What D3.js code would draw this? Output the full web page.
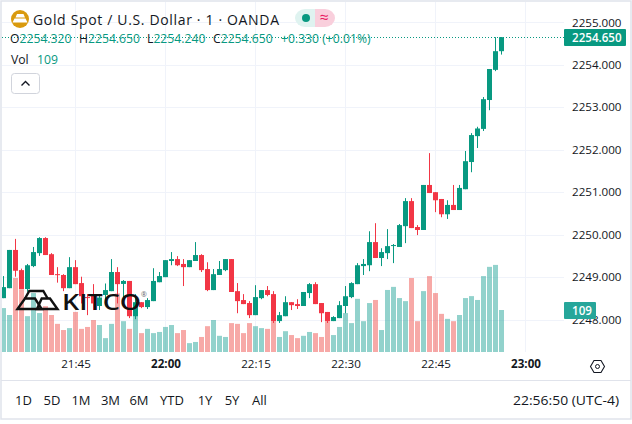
<!DOCTYPE html>
<html><head><meta charset="utf-8">
<script src="https://cdn.jsdelivr.net/npm/d3@7"></script>
<style>html,body{margin:0;padding:0;background:#fff}svg{display:block}text{font-family:"Open Sans",sans-serif}</style>
</head><body><svg id="c" width="632" height="424"></svg>
<script>
const opens=[2248.505,2248.74,2249.64,2249.165,2248.72,2249.26,2249.565,2249.92,2249.54,2249.07,2249.05,2248.74,2249.235,2248.86,2248.53,2248.58,2248.32,2248.58,2248.67,2249.12,2248.84,2248.91,2248.08,2248.41,2248.295,2248.435,2248.88,2249.00,2249.38,2249.425,2249.31,2249.235,2249.38,2249.52,2249.19,2248.695,2249.05,2249.165,2249.425,2248.67,2248.46,2248.39,2248.105,2248.505,2248.695,2248.60,2247.965,2248.08,2248.41,2248.365,2248.32,2248.625,2248.835,2248.39,2248.18,2247.965,2248.035,2248.32,2248.53,2248.835,2249.26,2249.28,2249.825,2249.45,2249.565,2249.74,2249.71,2250.20,2250.79,2250.18,2250.11,2251.17,2251.0,2250.84,2250.48,2250.70,2250.58,2251.07,2251.71,2252.32,2252.49,2253.17,2253.88,2254.32];
const highs=[2249.025,2249.64,2249.90,2249.20,2249.31,2249.71,2249.94,2249.94,2249.565,2249.235,2249.07,2249.47,2249.40,2249.01,2248.60,2248.835,2248.58,2248.85,2249.425,2249.235,2248.93,2248.91,2248.60,2248.41,2248.505,2249.21,2249.12,2249.40,2249.59,2249.495,2249.425,2249.40,2249.825,2249.54,2249.35,2249.19,2249.38,2249.425,2249.425,2248.86,2248.60,2248.435,2248.81,2248.695,2248.79,2248.67,2248.18,2248.55,2248.41,2248.48,2248.65,2248.86,2248.88,2248.39,2248.18,2248.08,2248.435,2248.79,2248.88,2249.33,2249.425,2250.08,2250.27,2249.68,2250.13,2249.78,2250.25,2250.86,2250.86,2250.225,2251.17,2251.92,2251.0,2250.84,2250.81,2251.17,2251.17,2251.97,2252.39,2252.54,2253.24,2253.90,2254.65,2254.65];
const lows=[2248.505,2248.74,2249.01,2248.72,2248.655,2249.235,2249.50,2249.52,2249.05,2248.87,2248.67,2248.74,2248.835,2248.38,2248.105,2248.225,2248.225,2248.34,2248.67,2248.38,2248.38,2248.035,2248.01,2248.27,2248.25,2248.435,2248.88,2249.00,2249.28,2249.26,2248.79,2249.235,2249.38,2249.12,2248.67,2248.695,2249.05,2249.14,2248.65,2248.15,2248.365,2248.035,2248.105,2248.48,2248.55,2247.92,2247.92,2248.08,2248.225,2248.25,2248.32,2248.505,2248.365,2247.94,2247.92,2247.965,2248.035,2248.15,2248.505,2248.835,2249.05,2249.14,2249.45,2249.26,2249.425,2249.33,2249.71,2249.80,2250.155,2249.99,2250.11,2250.98,2250.53,2250.41,2250.37,2250.58,2250.58,2251.07,2251.47,2252.04,2252.44,2252.93,2253.85,2254.24];
const closes=[2248.765,2249.64,2249.15,2248.72,2249.28,2249.59,2249.92,2249.52,2249.05,2249.06,2248.74,2249.235,2248.835,2248.55,2248.52,2248.38,2248.52,2248.695,2249.12,2248.835,2248.91,2248.08,2248.41,2248.295,2248.46,2248.91,2249.025,2249.40,2249.425,2249.28,2249.235,2249.40,2249.52,2249.165,2248.695,2249.07,2249.19,2249.425,2248.65,2248.435,2248.365,2248.105,2248.53,2248.695,2248.58,2247.965,2248.105,2248.41,2248.34,2248.32,2248.65,2248.835,2248.365,2248.15,2247.965,2248.06,2248.34,2248.55,2248.86,2249.28,2249.31,2249.825,2249.45,2249.59,2249.73,2249.755,2250.225,2250.79,2250.155,2250.11,2251.17,2250.98,2250.81,2250.48,2250.70,2250.58,2251.10,2251.73,2252.345,2252.50,2253.19,2253.90,2254.32,2254.65];
const volumes=[114,96,192,163,93,153,101,119,96,73,57,62,104,60,65,83,70,36,73,152,80,60,126,49,60,49,52,65,70,49,57,23,26,39,67,83,42,39,75,73,49,75,67,62,60,80,39,54,44,36,42,52,49,39,80,44,65,101,75,138,80,127,135,57,161,169,140,132,192,80,158,197,153,99,86,80,96,140,145,135,197,221,226,109];
const candleUp=[1,1,0,0,1,1,1,0,0,0,0,1,0,0,0,0,1,1,1,0,1,0,1,0,1,1,1,1,1,0,0,1,1,0,0,1,1,1,0,0,0,0,1,1,0,0,1,1,0,0,1,1,0,0,0,1,1,1,1,1,1,1,0,1,1,1,1,1,0,0,1,0,0,0,1,0,1,1,1,1,1,1,1,1];
const priceTicks=[2248,2249,2250,2251,2252,2253,2254,2255];
const timeTicks=["21:45","22:00","22:15","22:30","22:45","23:00"];
const boldTimes=["22:00","23:00"];
const ranges=["1D","5D","1M","3M","6M","YTD","1Y","5Y","All"];
const rangeX=[23.5,52,81,110.5,139,172,205,232,259.5];
const startMinute=21*60+33;
const lastPrice=2254.65, lastVolume=109;

const UP="#089981",DOWN="#F23645",VUP="#26a69a",VDOWN="#ef5350",INK="#131722",GRID="#f0f3fa";
const svg=d3.select("#c");
const parse=s=>{const[a,b]=s.split(":").map(Number);return a*60+b;};
const x=d3.scaleLinear().domain([startMinute,startMinute+1]).range([3.5,9.5]);
const y=d3.scaleLinear().domain([2255,2248]).range([22.3,319.6]);
const v=d3.scaleLinear().domain([0,109]).range([352,310]);
const col=i=>Math.floor(x(startMinute+i));

svg.append("defs").append("clipPath").attr("id","pane").append("rect").attr("x",2).attr("y",2).attr("width",562).attr("height",350);
const g=svg.append("g");
// grid
g.selectAll(".h").data(priceTicks).join("line").attr("x1",2).attr("x2",564).attr("y1",d=>Math.round(y(d))+.5).attr("y2",d=>Math.round(y(d))+.5).attr("stroke",GRID);
g.selectAll(".v").data(timeTicks).join("line").attr("y1",2).attr("y2",352).attr("x1",d=>Math.floor(x(parse(d)))+.5).attr("x2",d=>Math.floor(x(parse(d)))+.5).attr("stroke",GRID);
const p=g.append("g").attr("clip-path","url(#pane)");
// volume
p.selectAll(".vol").data(volumes).join("rect").attr("x",(d,i)=>col(i)-2).attr("width",5).attr("y",d=>v(d)).attr("height",d=>v(0)-v(d))
 .attr("fill",(d,i)=>candleUp[i]?VUP:VDOWN).attr("opacity",.5);
// wicks + bodies
p.selectAll(".w").data(opens).join("line").attr("x1",(d,i)=>col(i)+.5).attr("x2",(d,i)=>col(i)+.5)
 .attr("y1",(d,i)=>y(highs[i])).attr("y2",(d,i)=>y(lows[i])).attr("stroke",(d,i)=>candleUp[i]?UP:DOWN).attr("stroke-width",1);
p.selectAll(".b").data(opens).join("rect").attr("x",(d,i)=>col(i)-2).attr("width",5)
 .attr("y",(d,i)=>y(Math.max(d,closes[i]))).attr("height",(d,i)=>Math.max(1,Math.abs(y(d)-y(closes[i]))))
 .attr("fill",(d,i)=>candleUp[i]?UP:DOWN);
// last price line
g.append("line").attr("x1",2).attr("x2",564).attr("y1",37.5).attr("y2",37.5).attr("stroke",UP).attr("stroke-dasharray","1 2");

// Kitco logo
const logo=svg.append("g").attr("stroke","#111").attr("fill","none").attr("stroke-width",2.4).attr("stroke-linejoin","miter");
logo.append("path").attr("d","M17.5 309 L25 298.5 H35 L41.7 309Z");
logo.append("path").attr("d","M37 309 L41.7 298.5 H50 L57.5 309Z");
logo.append("path").attr("d","M25 298.5 L29.3 291 H43.3 L47.7 298.5");
svg.append("text").attr("x",62).attr("y",310).attr("font-size",21).attr("font-weight",600).attr("fill","#111").attr("textLength",79).attr("lengthAdjust","spacingAndGlyphs").text("KITCO");
svg.append("text").attr("x",141).attr("y",297).attr("font-size",7).attr("fill","#666").text("®");

// price axis
const yAxis=d3.axisRight(y).tickValues(priceTicks).tickSize(0).tickPadding(0).tickFormat(d3.format(".3f"));
const ya=svg.append("g").attr("transform","translate(572,0)").call(yAxis);
ya.select(".domain").remove();
ya.selectAll("text").attr("font-size",11.6).attr("fill",INK).attr("font-family",'"Open Sans"');

// last labels
svg.append("rect").attr("x",564).attr("y",29).attr("width",62).attr("height",17).attr("rx",1).attr("fill",UP);
svg.append("text").attr("x",572).attr("y",42).attr("font-size",11.6).attr("font-weight",600).attr("fill","#fff").text(d3.format(".3f")(lastPrice));
svg.append("rect").attr("x",564).attr("y",302).attr("width",32).attr("height",17).attr("rx",1).attr("fill",VUP);
svg.append("text").attr("x",572).attr("y",315).attr("font-size",11.6).attr("font-weight",600).attr("fill","#fff").text(lastVolume);

// time axis
const xAxis=d3.axisBottom(x).tickValues(timeTicks.map(parse)).tickSize(0).tickPadding(0).tickFormat(d=>timeTicks[timeTicks.map(parse).indexOf(d)]);
const xa=svg.append("g").attr("transform","translate(0,360)").call(xAxis);
xa.select(".domain").remove();
xa.selectAll("text").attr("font-size",11.6).attr("fill",INK).attr("font-weight",d=>boldTimes.includes(timeTicks[timeTicks.map(parse).indexOf(d)])?700:400).attr("font-family",'"Open Sans"');
// settings hex
svg.append("path").attr("d","M590.5 366.5 L594 360.5 H601 L604.5 366.5 L601 372.5 H594Z").attr("fill","none").attr("stroke",INK).attr("stroke-width",1.1);
svg.append("circle").attr("cx",597.5).attr("cy",366.5).attr("r",2).attr("fill","none").attr("stroke",INK).attr("stroke-width",1);

// frame
svg.append("rect").attr("x",1).attr("y",1).attr("width",630).attr("height",418).attr("fill","none").attr("stroke","#e0e3eb").attr("stroke-width",1.5);
svg.append("line").attr("x1",1).attr("x2",631).attr("y1",389.5).attr("y2",389.5).attr("stroke","none");
svg.append("line").attr("x1",1).attr("x2",631).attr("y1",380.5).attr("y2",380.5).attr("stroke","#e0e3eb");

// range bar
svg.selectAll(".r").data(ranges).join("text").attr("x",(d,i)=>rangeX[i]).attr("y",405).attr("text-anchor","middle").attr("font-size",13).attr("fill",INK).text(d=>d);
svg.append("text").attr("x",513).attr("y",405).attr("font-size",13).attr("fill",INK).attr("textLength",106).attr("lengthAdjust","spacingAndGlyphs").text("22:56:50 (UTC-4)");

// header
svg.append("circle").attr("cx",20).attr("cy",19).attr("r",9).attr("fill","#d99a0e");
svg.append("path").attr("d","M17 14 H23.5 L25 17.5 H15.5Z M14.5 18.5 H25.5 L27.5 22.5 H12.5Z").attr("fill","#fff");
svg.append("text").attr("x",33).attr("y",24.5).attr("font-size",14).attr("fill",INK).attr("textLength",246).attr("lengthAdjust","spacing").text("Gold Spot / U.S. Dollar · 1 · OANDA");
svg.append("path").attr("d","M315 9 H305 a10 9 0 0 0 0 18 H315Z").attr("fill","#dff3f0");
svg.append("path").attr("d","M315 9 H325 a10 9 0 0 1 0 18 H315Z").attr("fill","#f9cfdc");
svg.append("circle").attr("cx",306).attr("cy",18).attr("r",4).attr("fill",UP);
svg.append("text").attr("x",324).attr("y",23).attr("text-anchor","middle").attr("font-size",16).attr("fill","#e91e63").text("≈");

const ohlc=[["O","2254.320",10],["H","2254.650",79],["L","2254.240",147],["C","2254.650",213]];
ohlc.forEach(([k,val,px])=>{
 const t=svg.append("text").attr("x",px).attr("y",43).attr("font-size",12.2);
 t.append("tspan").attr("fill",INK).text(k);
 t.append("tspan").attr("fill",UP).text(val);
});
svg.append("text").attr("x",281).attr("y",43).attr("font-size",12.2).attr("fill",UP).text("+0.330 (+0.01%)");
svg.append("text").attr("x",11).attr("y",64).attr("font-size",12.2).attr("fill",INK).text("Vol");
svg.append("text").attr("x",37).attr("y",64).attr("font-size",12.2).attr("fill",UP).text(lastVolume);
svg.append("rect").attr("x",11.5).attr("y",73.5).attr("width",28).attr("height",20).attr("rx",3).attr("fill","#fff").attr("stroke","#d1d4dc");
svg.append("path").attr("d","M21.5 85.5 L25.5 81.5 L29.5 85.5").attr("fill","none").attr("stroke",INK).attr("stroke-width",1.4);
</script></body></html>
